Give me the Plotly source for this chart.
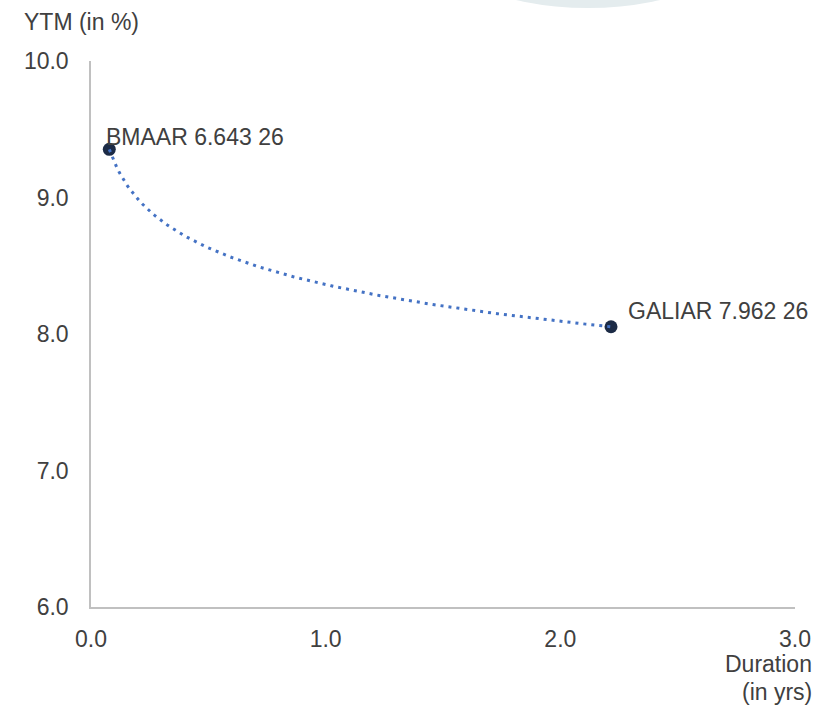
import numpy as np
import plotly.graph_objects as go

# Bond data: duration (years) vs yield to maturity (%)
bonds = ["BMAAR 6.643 26", "GALIAR 7.962 26"]
duration = [0.078, 2.216]
ytm = [9.353, 8.053]

x_ticks = [0.0, 1.0, 2.0, 3.0]
y_ticks = [6.0, 7.0, 8.0, 9.0, 10.0]

FONT = "Liberation Sans, Arial, Helvetica, sans-serif"
FS = 23
TEXT = "#404040"

# Logarithmic trendline y = a + b*ln(x) fitted to the bonds
b, a = np.polyfit(np.log(duration), ytm, 1)
tx = np.linspace(min(duration), max(duration), 200)
ty = a + b * np.log(tx)

fig = go.Figure()
fig.add_trace(go.Scatter(
    x=duration, y=ytm, mode="markers",
    marker=dict(size=13, color="#1C2B46", line=dict(width=0)),
    hoverinfo="skip", showlegend=False,
))
fig.add_trace(go.Scatter(
    x=tx, y=ty, mode="lines",
    line=dict(color="#4472C4", width=3, dash="3px,5px"),
    hoverinfo="skip", showlegend=False,
))

# Point labels
label_offsets = [(-5, 12), (15, 16)]
for name, xv, yv, (dx, dy) in zip(bonds, duration, ytm, label_offsets):
    fig.add_annotation(
        x=xv, y=yv, text=name, showarrow=False,
        xanchor="left", yanchor="middle", xshift=dx, yshift=dy,
        font=dict(family=FONT, size=FS, color=TEXT),
    )

# Axis titles (pixel positions, converted to paper fractions below)
titles = [
    ("YTM (in %)", 22, 22, "left"),
    ("Duration", 814, 664, "right"),
    ("(in yrs)", 814, 692, "right"),
]
for txt, px, py, anchor in titles:
    fig.add_annotation(
        x=px, y=py, xref="paper", yref="paper", text=txt,
        showarrow=False, xanchor=anchor, yanchor="middle",
        font=dict(family=FONT, size=FS, color=TEXT),
    )

# Light decorative disc clipped at the top edge
fig.add_shape(
    type="circle", xref="paper", yref="paper", layer="below",
    x0=588 - 330, x1=588 + 330, y0=-652, y1=8,
    fillcolor="#E4ECEE", line=dict(width=0),
)

W, H = 815, 707
ML, MR, MT, MB = 91, 20, 61, 100

def px_x(v):
    return (v - ML) / (W - ML - MR)

def px_y(v):
    return 1 - (v - MT) / (H - MT - MB)

for ann in fig.layout.annotations:
    if ann.xref == "paper":
        ann.x = px_x(ann.x)
        ann.y = px_y(ann.y)
for shp in fig.layout.shapes:
    shp.x0, shp.x1 = px_x(shp.x0), px_x(shp.x1)
    shp.y0, shp.y1 = px_y(shp.y1), px_y(shp.y0)

fig.update_layout(
    width=W, height=H,
    margin=dict(l=ML, r=MR, t=MT, b=MB, autoexpand=False),
    paper_bgcolor="white", plot_bgcolor="white",
    font=dict(family=FONT, size=FS, color=TEXT),
    xaxis=dict(
        range=[0, 3], tickvals=x_ticks, ticktext=[f"{v:.1f}" for v in x_ticks],
        showgrid=False, zeroline=False, showline=True, automargin=False,
        linecolor="#C0C0C0", linewidth=1.5, ticks="", ticklabelstandoff=11,
        tickfont=dict(family=FONT, size=FS, color=TEXT),
    ),
    yaxis=dict(
        range=[6, 10], tickvals=y_ticks, ticktext=[f"{v:.1f}" for v in y_ticks],
        showgrid=False, zeroline=False, showline=True, automargin=False,
        linecolor="#C0C0C0", linewidth=1.5, ticks="", ticklabelstandoff=16,
        tickfont=dict(family=FONT, size=FS, color=TEXT),
    ),
)

fig.write_html("out.html")
